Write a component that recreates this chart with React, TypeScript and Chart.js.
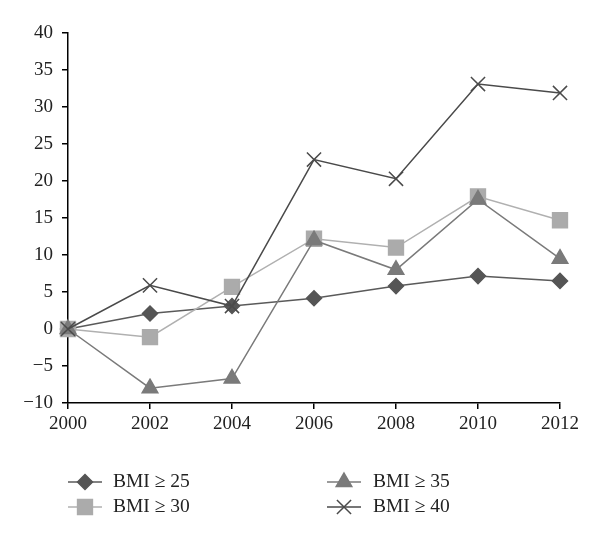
import React, { useEffect, useRef } from "react";
import { Chart, registerables } from "chart.js";
import { drawPoint } from "chart.js/helpers";

Chart.register(...registerables);

const years = ["2000", "2002", "2004", "2006", "2008", "2010", "2012"];
const seriesNames = ["BMI ≥ 25", "BMI ≥ 30", "BMI ≥ 35", "BMI ≥ 40"];
const bmi25 = [0, 2.1, 3.1, 4.15, 5.8, 7.15, 6.5];
const bmi30 = [0, -1.1, 5.7, 12.2, 11.0, 17.9, 14.7];
const bmi35 = [0, -8.0, -6.7, 12.0, 8.0, 17.5, 9.5];
const bmi40 = [0, 5.9, 3.1, 22.9, 20.3, 33.1, 31.9];
const yMin = -10;
const yMax = 40;
const yStep = 5;

const FONT = "'Liberation Serif', 'DejaVu Serif', serif";

const styles = [
  { line: "#5a5a5a", fill: "#555555", point: "rectRot", radius: 7.5, width: 1.5 },
  { line: "#b0b0b0", fill: "#ababab", point: "rect", radius: 10.5, width: 1.5 },
  { line: "#7a7a7a", fill: "#7a7a7a", point: "triangle", radius: 9, width: 1.5 },
  { line: "#4a4a4a", fill: "#4a4a4a", point: "crossRot", radius: 10, width: 1.5 },
];

const legendPos = [
  { x1: 68, x2: 102, tx: 113, y: 482 },
  { x1: 68, x2: 102, tx: 113, y: 507 },
  { x1: 327, x2: 361, tx: 373, y: 482 },
  { x1: 327, x2: 361, tx: 373, y: 507 },
];

const legendPlugin = {
  id: "twoColLegend",
  afterDraw(chart: any) {
    const ctx = chart.ctx;
    chart.data.datasets.forEach((ds: any, i: number) => {
      const p = legendPos[i];
      const s = styles[i];
      ctx.save();
      ctx.strokeStyle = s.line;
      ctx.lineWidth = s.width;
      ctx.beginPath();
      ctx.moveTo(p.x1, p.y);
      ctx.lineTo(p.x2, p.y);
      ctx.stroke();
      ctx.fillStyle = s.fill;
      ctx.strokeStyle = s.point === "crossRot" ? s.line : s.fill;
      ctx.lineWidth = s.width;
      drawPoint(ctx, { pointStyle: s.point, radius: s.radius, rotation: 0, borderWidth: s.width } as any, (p.x1 + p.x2) / 2, p.y);
      ctx.fillStyle = "#222";
      ctx.font = `19.5px ${FONT}`;
      ctx.textBaseline = "middle";
      ctx.textAlign = "left";
      ctx.fillText(ds.label, p.tx, p.y);
      ctx.restore();
    });
  },
};

export default function App() {
  const ref = useRef<HTMLCanvasElement>(null);
  useEffect(() => {
    if (!ref.current) return;
    const all = [bmi25, bmi30, bmi35, bmi40];
    const chart = new Chart(ref.current, {
      type: "line",
      data: {
        labels: years,
        datasets: all.map((d, i) => ({
          label: seriesNames[i],
          data: d,
          borderColor: styles[i].line,
          borderWidth: styles[i].width,
          backgroundColor: styles[i].fill,
          pointBackgroundColor: styles[i].fill,
          pointBorderColor: styles[i].point === "crossRot" ? styles[i].line : styles[i].fill,
          pointBorderWidth: 1.5,
          pointStyle: styles[i].point as any,
          pointRadius: styles[i].radius,
          pointHoverRadius: styles[i].radius,
          tension: 0,
          fill: false,
          order: 3 - i,
        })),
      },
      options: {
        responsive: false,
        animation: false,
        layout: { padding: { left: 0, top: 33, right: 40, bottom: 97 } },
        plugins: { legend: { display: false }, tooltip: { enabled: false } },
        scales: {
          x: {
            offset: false,
            grid: { display: true, drawOnChartArea: false, drawTicks: true, tickLength: 6, color: "#000", lineWidth: 1.5 },
            border: { display: true, color: "#000", width: 1.5 },
            ticks: { color: "#222", font: { family: FONT, size: 19 }, padding: 4, maxRotation: 0 },
            afterFit: (s: any) => { s.height = 40; },
          },
          y: {
            min: yMin,
            max: yMax,
            grid: { display: true, drawOnChartArea: false, drawTicks: true, tickLength: 6, color: "#000", lineWidth: 1.5 },
            border: { display: true, color: "#000", width: 1.5 },
            ticks: {
              stepSize: yStep,
              color: "#222",
              font: { family: FONT, size: 19 },
              padding: 9,
              callback: (v: any) => String(v).replace("-", "−"),
            },
            afterFit: (s: any) => { s.width = 68; },
          },
        },
      },
      plugins: [legendPlugin],
    });
    return () => chart.destroy();
  }, []);
  return (
    <div style={{ position: "absolute", left: 0, top: 0, width: 600, height: 540, background: "#fff" }}>
      <canvas ref={ref} width={600} height={540} />
    </div>
  );
}
